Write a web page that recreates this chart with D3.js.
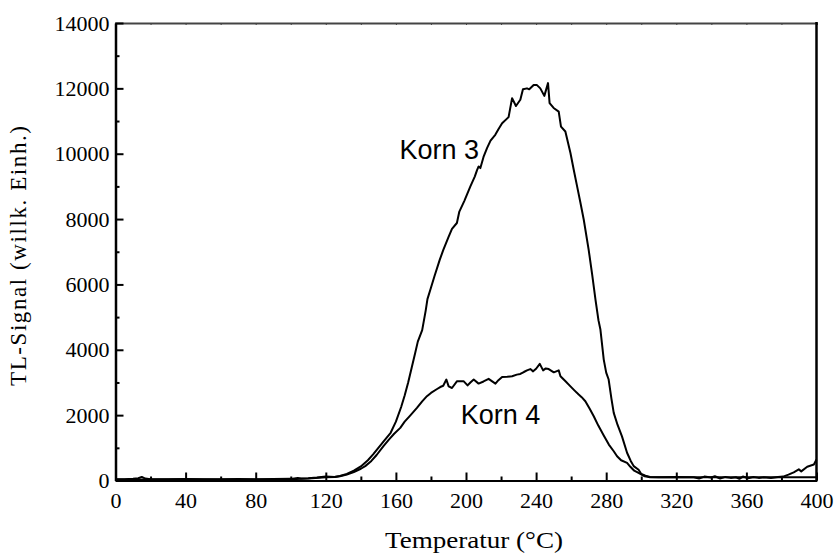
<!DOCTYPE html>
<html>
<head>
<meta charset="utf-8">
<script src="https://cdn.jsdelivr.net/npm/d3@7"></script>
<style>
  html, body { margin: 0; padding: 0; background: #fff; }
  svg { display: block; }
</style>
</head>
<body>
<svg id="chart" width="838" height="553"></svg>
<script>
// ---- data ----
const xTicks = [0, 40, 80, 120, 160, 200, 240, 280, 320, 360, 400];
const yTicks = [0, 2000, 4000, 6000, 8000, 10000, 12000, 14000];
const xLabel = "Temperatur (°C)";
const yLabel = "TL-Signal (willk. Einh.)";
const seriesNames = ["Korn 3", "Korn 4"];

const korn3T = [0,5,10,13,15,17,20,30,40,50,60,70,80,90,100,104,106,110,115,120,125,128,132,136,140,144,147,150,153,157,160,163,165,167,169,171,172.5,175,177,178,180,182,185,187,190,192,194.8,196.2,199,202.5,205,206.3,207.2,208.2,210,212,214,216.7,218.5,220.6,224.3,226.3,228.5,231,232.5,234.8,236.1,238.6,240.5,242.4,244.7,246.8,247.7,250,252.9,254.2,256.7,259.6,261.5,263.4,265.3,267.2,270,272,273.9,275.6,276.7,278.6,280,281.4,283,284.3,286.5,289,291.9,294,295.7,298.5,300,302.4,305,310,320,330,333,336,340,342,345,348,351,354,356,358,361,364,367,370,374,378,381,384,387,389.9,391.3,394.7,398.5,400];
const korn3V = [40,40,50,70,110,60,40,40,45,40,40,45,40,45,50,80,60,70,90,120,110,140,200,300,430,620,800,1000,1200,1460,1800,2250,2600,3000,3450,3900,4250,4600,5200,5550,5900,6250,6750,7050,7450,7700,7880,8230,8550,9000,9300,9500,9610,9560,9900,10170,10400,10580,10750,10930,11120,11700,11460,11650,11970,12000,11970,12100,12100,12000,11770,12160,11550,11400,11290,10830,10680,10020,9500,9000,8500,7980,7060,6300,5530,4900,4620,3700,3300,3090,2500,2070,1700,1350,850,600,440,330,200,150,110,100,110,100,60,120,90,130,60,110,80,100,50,120,70,110,80,100,80,110,120,180,250,340,280,420,490,640];

const korn4T = [0,20,40,60,80,100,110,120,125,128,132,136,140,142.5,146,149,152.9,156,159,162.5,165,168,172,175,177.7,180,183.5,185.3,187,188.8,190.1,192,194.9,198.6,200.9,202.5,204.4,207.2,210,212.9,216.8,218.5,220.6,223.5,226.3,229,231,233,234.8,236.7,238.3,240,242.1,244,245.5,247.2,250.1,252.9,253.9,256.5,259.6,262,264.3,266,268.1,270.5,272.9,275.5,278.6,281.5,284.3,286.2,288.5,291.9,293.8,296,299.5,302,305,320,340,360,380,400];
const korn4V = [30,30,35,30,30,40,60,100,110,130,180,260,360,440,600,780,1050,1250,1430,1610,1800,1980,2220,2420,2580,2680,2800,2860,2900,3090,2880,2830,3040,3040,2910,3000,3090,2965,3030,3110,2965,3070,3170,3175,3190,3240,3260,3320,3370,3410,3340,3420,3570,3370,3430,3410,3310,3370,3190,3050,2880,2750,2630,2550,2425,2200,1966,1680,1380,1100,896,743,620,540,420,300,200,130,100,100,100,100,100,100];

const annotations = [
  { text: "Korn 3", t: 162, v: 9850 },
  { text: "Korn 4", t: 197, v: 1730 }
];

// ---- layout ----
const svg = d3.select("#chart");
const L = 115.5, R = 816.5, T = 23, B = 480.5;
const x = d3.scaleLinear().domain([0, 400]).range([L, R]);
const y = d3.scaleLinear().domain([0, 14000]).range([B, T]);
const serif = "'Liberation Serif', 'Times New Roman', serif";
const sans = "'Liberation Sans', Arial, sans-serif";

// curves
const line = d3.line().x(d => x(d[0])).y(d => y(d[1]));
const s3 = korn3T.map((t, i) => [t, korn3V[i]]);
const s4 = korn4T.map((t, i) => [t, korn4V[i]]);
[s3, s4].forEach(s => {
  svg.append("path").datum(s)
    .attr("d", line)
    .attr("fill", "none")
    .attr("stroke", "#000")
    .attr("stroke-width", 2)
    .attr("stroke-linejoin", "round");
});

// top axis (thin, small ticks every 20)
const xMinor = d3.range(0, 401, 20);
const topAx = svg.append("g").attr("transform", `translate(0,${T})`)
  .call(d3.axisTop(x).tickValues(xMinor).tickSize(-2).tickFormat(""));
topAx.select(".domain").attr("stroke", "#444").attr("stroke-width", 2);
topAx.selectAll(".tick line").attr("stroke", "#444").attr("stroke-width", 1);

// right axis
svg.append("line").attr("x1", R).attr("x2", R).attr("y1", T - 1).attr("y2", B + 1)
  .attr("stroke", "#000").attr("stroke-width", 2.5);

// bottom axis: minor + major ticks inward
const botMinor = svg.append("g").attr("transform", `translate(0,${B})`)
  .call(d3.axisBottom(x).tickValues(xMinor.filter(v => v % 40 !== 0)).tickSize(-4).tickFormat(""));
botMinor.select(".domain").remove();
botMinor.selectAll(".tick line").attr("stroke", "#000").attr("stroke-width", 2);
const bot = svg.append("g").attr("transform", `translate(0,${B})`)
  .call(d3.axisBottom(x).tickValues(xTicks).tickSize(-8).tickPadding(12).tickSizeOuter(0));
bot.select(".domain").attr("stroke", "#000").attr("stroke-width", 2);
bot.selectAll(".tick line").attr("stroke", "#000").attr("stroke-width", 2);
bot.selectAll(".tick text").attr("font-family", serif).attr("font-size", 22).attr("fill", "#000");

// left axis
const yMinor = d3.range(1000, 14000, 2000);
const leftMinor = svg.append("g").attr("transform", `translate(${L},0)`)
  .call(d3.axisLeft(y).tickValues(yMinor).tickSize(-4).tickFormat(""));
leftMinor.select(".domain").remove();
leftMinor.selectAll(".tick line").attr("stroke", "#000").attr("stroke-width", 2);
const left = svg.append("g").attr("transform", `translate(${L},0)`)
  .call(d3.axisLeft(y).tickValues(yTicks).tickSize(-8).tickPadding(6).tickSizeOuter(0).tickFormat(d3.format("d")));
left.select(".domain").attr("stroke", "#000").attr("stroke-width", 2.5);
left.selectAll(".tick line").attr("stroke", "#000").attr("stroke-width", 2);
left.selectAll(".tick text").attr("font-family", serif).attr("font-size", 22).attr("fill", "#000");

// axis titles
svg.append("text").attr("x", 385).attr("y", 548)
  .attr("font-family", serif).attr("font-size", 24).attr("fill", "#000")
  .attr("textLength", 178).attr("lengthAdjust", "spacingAndGlyphs")
  .text(xLabel);
svg.append("text").attr("transform", "translate(26,386) rotate(-90)")
  .attr("font-family", serif).attr("font-size", 23).attr("fill", "#000")
  .attr("textLength", 260).attr("lengthAdjust", "spacing")
  .text(yLabel);

// annotations
annotations.forEach(a => {
  svg.append("text").attr("x", x(a.t)).attr("y", y(a.v))
    .attr("font-family", sans).attr("font-size", 27).attr("fill", "#000")
    .text(a.text);
});
</script>
</body>
</html>
